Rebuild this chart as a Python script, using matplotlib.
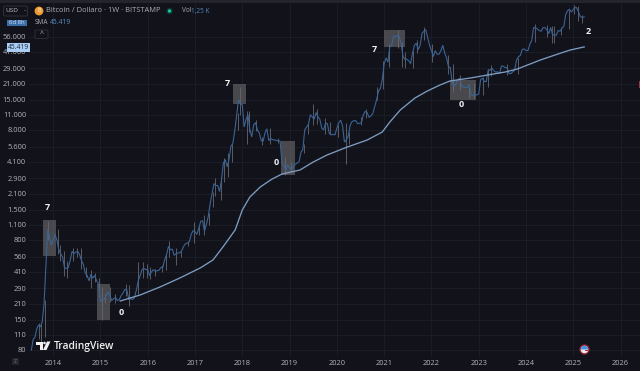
import numpy as np
import matplotlib
matplotlib.use("Agg")
import matplotlib.pyplot as plt
from matplotlib.patches import Rectangle, Circle, Wedge, Polygon, FancyBboxPatch

plt.rcParams['font.family'] = ['Open Sans', 'DejaVu Sans']

close_2013 = [80,100,105,125,135,130,145,210,450,1000,850,720]
close_2014 = [800,900,800,650,600,560,450,440,450,520,630,600,620,630,590,520,480,400,380,340,390,360,380,340,320]
close_2015 = [220,230,230,250,270,250,225,235,240,225,230,250,265,285,280,230,235,230,240,280,340,380,430,440,430]
close_2016 = [430,380,410,430,415,420,425,450,450,530,590,700,650,660,580,600,610,610,640,700,740,750,770,900,970]
close_2017 = [950,900,1020,1180,1200,960,1100,1300,1700,2100,2600,2500,2500,2200,2800,4000,4300,3700,4300,5700,6000,7800,10800,15000,14000]
close_2018 = [13500,8500,10000,11000,8000,6900,8900,9300,8000,7500,6400,6300,7500,8200,6400,6700,6500,6500,6400,6400,6300,4000,3800,3400,3900]
close_2019 = [3600,3500,3700,3900,4000,4100,5000,5300,8000,8500,9000,11000,10500,10000,11500,10500,10000,8300,8000,9200,9100,7400,7200,7300,7200]
close_2020 = [8300,9300,9800,8700,6200,6500,7000,8800,9500,9700,9700,9100,9200,9300,11000,11800,11500,10400,10700,11300,13000,15000,18000,19000,23000]
close_2021 = [32000,36000,33000,46000,47000,57000,56000,58000,56000,48000,37000,35000,35000,34000,32000,40000,47000,49000,43000,47000,60000,63000,65000,55000,47000]
close_2022 = [42000,37000,42000,39000,39000,42000,47000,40000,36000,30000,29500,21000,20000,21000,23000,23500,20000,19500,19500,19500,20500,16500,16500,16800,16600]
close_2023 = [17000,23000,23500,22000,22000,28000,28000,29000,27500,26800,27000,26000,30500,30300,29500,29300,26000,26000,27000,28000,34500,37000,38000,43000,43500]
close_2024 = [42000,42000,48000,52000,68000,68000,66000,64000,63000,68000,68000,65000,60000,68000,59000,58000,58000,64000,63000,67000,70000,90000,97000,100000,94000]
close_2025 = [102000,104000,96000,86000,84000,85000]

wick_dates = [2013.82,2013.9,2014.1,2014.14,2014.22,2014.6,2014.8,2014.98,2015.03,2015.1,2015.6,2015.9,2016.45,2016.6,2017.2,2017.55,2017.95,2018.1,2018.15,2018.9,2019.02,2019.5,2019.75,2020.19,2020.25,2021.3,2021.45,2021.85,2022.45,2022.9,2023.2,2024.6,2025.02,
              2013.7,2013.75,2014.3,2014.42,2014.5,2014.7,2014.88,2015.2,2015.3,2015.55,2015.8,2015.98,2016.05,2016.15,2016.3,2016.38,2016.7,2016.85,2016.98,2017.08,2017.3,2017.38,2017.42,2017.62,2017.7,2017.78,2017.9,2018.3,2018.42,2018.58,2018.75,2019.3,2019.38,2019.58,2019.85,2020.02,2020.5,2020.62,2020.85,2020.98,2021.1,2021.38,2021.6,2021.7,2022.02,2022.35,2022.6,2022.8,2023.08,2023.25,2023.6,2023.82,2024.2,2024.45,2024.55,2024.75,2024.9,2025.1,2025.18]
wick_low = [105,800,600,520,380,440,290,240,150,215,200,360,560,470,880,1850,11000,6000,7600,3100,3300,8900,7400,3900,6000,44000,29000,53000,17500,15500,19500,49000,90000,
            100,95,360,510,560,370,330,220,215,250,260,360,350,380,410,430,560,700,750,880,1100,1600,2000,2700,3000,4100,8000,7800,5800,6000,6100,4900,7400,9000,7300,6900,8900,10200,15000,19000,30000,30000,29000,40000,33000,26000,18500,15500,16500,24500,25000,26000,50000,56000,49000,58000,66000,78000,75000]
wick_high = [230,1180,1000,720,640,680,430,360,300,260,310,500,780,680,1350,3000,19700,11800,12000,4500,4100,13800,10300,9200,7600,64800,41000,69000,32000,21500,28800,70000,109000,
             140,140,520,680,680,450,400,300,260,320,500,480,450,440,470,600,640,780,1160,1080,1400,2200,2900,4400,4900,5900,11400,9900,6900,8400,6700,5900,9000,12300,9500,8800,10500,12400,19500,34000,48000,50000,42000,52000,48000,38000,25000,21000,24000,31000,31500,36000,73000,72000,70000,69000,99000,108000,88000]

sma_dates = [2015.42,2015.84,2016.26,2016.68,2017.11,2017.38,2017.59,2017.85,2018.0,2018.16,2018.38,2018.63,2018.84,2019.22,2019.50,2019.79,2020.22,2020.64,2020.96,2021.12,2021.34,2021.65,2021.91,2022.18,2022.39,2022.82,2023.18,2023.56,2023.81,2024.08,2024.30,2024.61,2024.93,2025.23]
sma_values = [223,253,299,361,445,526,690,986,1497,1963,2423,2862,3178,3456,4085,4727,5591,6470,7653,9432,12126,15580,18030,20460,22250,23680,25200,26870,28550,31680,34500,38300,42500,45419]

box_x0 = [2013.79,2014.93,2017.81,2018.82,2021.0,2022.39]
box_x1 = [2014.06,2015.21,2018.08,2019.12,2021.44,2022.94]
box_low = [572,150,13770,3115,45300,14950]
box_high = [1216,318,20900,6340,64600,22700]

note_x = [2013.87,2015.44,2017.68,2018.71,2020.79,2022.63,2025.31]
note_y = [1562,174,20900,4085,43400,13470,63300]
note_text = ['7','0','7','0','7','0','2']

price_ticks = [80,110,150,210,290,410,560,800,1100,1500,2100,2900,4100,5600,8000,11000,15000,21000,29000,41000,56000]
price_labels = ['80','110','150','210','290','410','560','800','1.100','1.500','2.100','2.900','4.100','5.600','8.000','11.000','15.000','21.000','29.000','41.000','56.000']
year_ticks = [2014,2015,2016,2017,2018,2019,2020,2021,2022,2023,2024,2025,2026]

BG = '#11121a'
W, H = 640, 371
fig = plt.figure(figsize=(6.4, 3.71), dpi=100, facecolor=BG)
ax = fig.add_axes([29/W, 1-357/H, (W-29)/W, 354/H], facecolor=BG)
ax.set_yscale('log')
ax.set_xlim(2013.49, 2026.41)
ax.set_ylim(69.1, 113800)

ax.set_xticks(year_ticks)
ax.set_xticklabels([str(y) for y in year_ticks])
ax.set_yticks(price_ticks)
ax.set_yticklabels(price_labels)
ax.minorticks_off()
ax.tick_params(axis='both', length=0, labelsize=5.4, labelcolor='#b4b5bb', pad=2)
ax.tick_params(axis='x', pad=2.5)
ax.grid(True, color='#1c1e27', lw=0.7)
ax.set_axisbelow(True)
for s in ax.spines.values():
    s.set_visible(False)

dates, closes = [], []
dates.extend(np.linspace(2013.54, 2014, len(close_2013), endpoint=False))
closes.extend(close_2013)
for yr, vals in zip(range(2014, 2025), [close_2014,close_2015,close_2016,close_2017,close_2018,close_2019,close_2020,close_2021,close_2022,close_2023,close_2024]):
    dates.extend(np.linspace(yr, yr+1, len(vals), endpoint=False))
    closes.extend(vals)
dates.extend(np.linspace(2025.02, 2025.23, len(close_2025)))
closes.extend(close_2025)
dates = np.array(dates); closes = np.array(closes, float)

for x0, x1, lo, hi in zip(box_x0, box_x1, box_low, box_high):
    ax.add_patch(Rectangle((x0, lo), x1-x0, hi-lo, fc='#6a6a6e', ec='none', alpha=0.62, zorder=4))

ax.vlines(wick_dates, wick_low, wick_high, color='#5f626c', lw=0.65, zorder=2)
ax.plot(dates, closes, color='#3a6496', lw=0.8, zorder=5, solid_joinstyle='miter')
ax.plot(sma_dates, sma_values, color='#7d9cc0', lw=0.95, zorder=6)

for x, y, t in zip(note_x, note_y, note_text):
    ax.text(x, y, t, color='#f2f2f2', fontsize=6.5, fontweight='bold', ha='center', va='center', zorder=7)

# overlay in pixel coordinates for the chart's user-interface furniture
ov = fig.add_axes([0, 0, 1, 1], facecolor='none')
ov.set_xlim(0, W); ov.set_ylim(H, 0); ov.axis('off')
ov.add_patch(Rectangle((0, 0), W, 2.5, fc='#24252c', ec='none'))
ov.add_patch(FancyBboxPatch((3.5, 6), 24, 10, boxstyle='round,pad=0,rounding_size=1.5', fc=BG, ec='#34353d', lw=0.6))
ov.text(5.5, 11, 'USD', color='#c5c6cb', fontsize=4.6, va='center')
ov.text(24.5, 11, '-', color='#c5c6cb', fontsize=4.6, va='center', ha='center')
ov.add_patch(Circle((39, 11), 4.4, fc='#ef9a30', ec='none'))
ov.text(39, 11, '₿', color='#ffe9cc', fontsize=4, va='center', ha='center', family=['Inter','Noto Sans','Roboto','Lato','DejaVu Sans'])
ov.text(45.5, 11, 'Bitcoin / Dollaro · 1W · BITSTAMP', color='#acadb4', fontsize=5.4, va='center')
ov.add_patch(Circle((169.5, 11), 3.2, fc='#0d3a37', ec='none'))
ov.add_patch(Circle((169.5, 11), 1.6, fc='#1fc9a0', ec='none'))
ov.text(181.5, 11, 'Vol', color='#acadb4', fontsize=4.7, va='center')
ov.text(191, 11, '1,25 K', color='#4f86bd', fontsize=4.7, va='center')
ov.add_patch(Rectangle((6.5, 19.5), 20, 6, fc='#3a6ea8', ec='none'))
ov.text(16.5, 22.5, '6d 8h', color='#d4e0ee', fontsize=4.3, va='center', ha='center')
ov.text(34.5, 22.5, 'SMA', color='#acadb4', fontsize=4.7, va='center')
ov.text(50, 22.5, '45.419', color='#5b93c9', fontsize=4.9, va='center')
ov.add_patch(FancyBboxPatch((35, 30), 13, 8.5, boxstyle='round,pad=0,rounding_size=1', fc=BG, ec='#2f3037', lw=0.6))
ov.text(41.5, 34.6, '^', color='#b5b6bb', fontsize=5, va='center', ha='center')
ov.add_patch(Rectangle((6.5, 43), 23.5, 8.5, fc='#a9cdf5', ec='none'))
ov.text(18.2, 47.2, '45.419', color='#1a2533', fontsize=4.9, va='center', ha='center')

# TradingView wordmark
ov.add_patch(Polygon([(36,341.5),(43,341.5),(43,350),(40,350),(40,344.5),(36,344.5)], fc='#f2f2f2', ec='none'))
ov.add_patch(Circle((44.5, 343), 1.3, fc='#f2f2f2', ec='none'))
ov.add_patch(Polygon([(47,341.5),(50.5,341.5),(46.5,350),(43,350)], fc='#f2f2f2', ec='none'))
ov.text(53.5, 346, 'TradingView', color='#f0f0f0', fontsize=7.4, fontweight='semibold', va='center')

ov.add_patch(Rectangle((12, 357.5), 7, 7, fc='#25262c', ec='none'))
ov.text(15.5, 361.2, 'Z', color='#777880', fontsize=3.8, va='center', ha='center')

# Flag marker
ov.add_patch(Circle((584.5, 349.5), 5.2, fc='#8f1f2c', ec='none'))
ov.add_patch(Circle((584.5, 349.5), 3.8, fc='#e9e9ee', ec='none'))
ov.add_patch(Wedge((584.5, 349.5), 3.8, 180, 360, fc='#4a90e2', ec='none'))
ov.add_patch(Rectangle((585, 350.3), 3.2, 1.1, fc='#c9303f', ec='none'))
ov.add_patch(Rectangle((638.6, 80.5), 1.4, 7, fc='#9a3b42', ec='none'))

fig.savefig('out.png', dpi=100, facecolor=BG)
